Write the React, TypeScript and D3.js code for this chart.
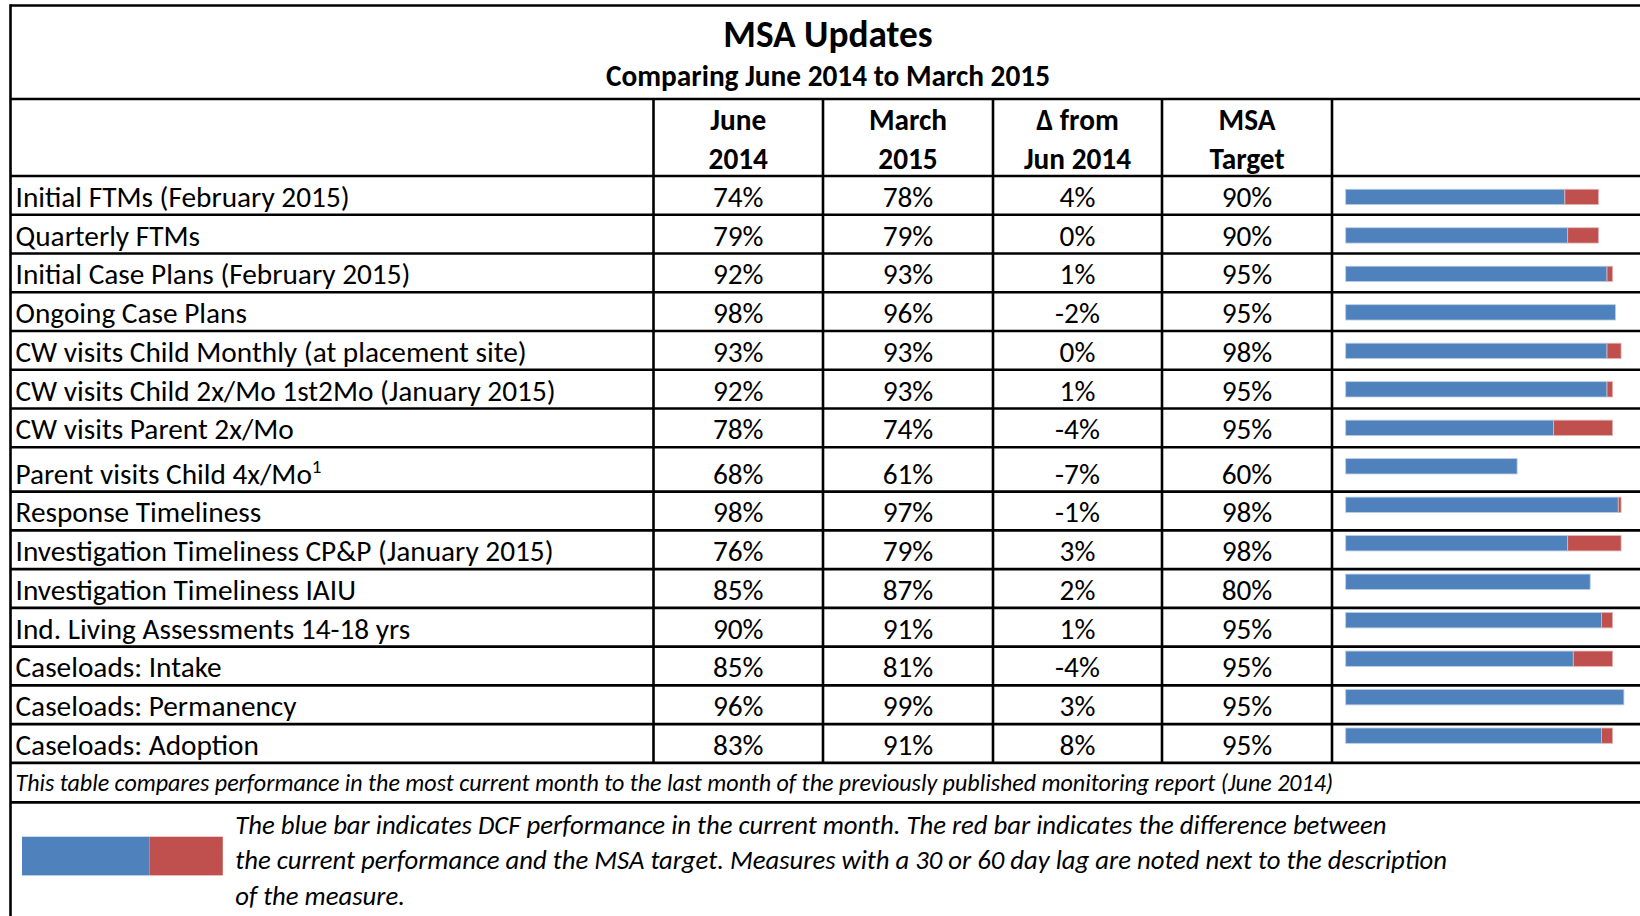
import React from "react";
import * as d3 from "d3";

const measures = [
  "Initial FTMs (February 2015)",
  "Quarterly FTMs",
  "Initial Case Plans (February 2015)",
  "Ongoing Case Plans",
  "CW visits Child Monthly (at placement site)",
  "CW visits Child 2x/Mo 1st2Mo (January 2015)",
  "CW visits Parent 2x/Mo",
  "Parent visits Child 4x/Mo",
  "Response Timeliness",
  "Investigation Timeliness CP&P (January 2015)",
  "Investigation Timeliness IAIU",
  "Ind. Living Assessments 14-18 yrs",
  "Caseloads: Intake",
  "Caseloads: Permanency",
  "Caseloads: Adoption",
];
const superscripts = ["", "", "", "", "", "", "", "1", "", "", "", "", "", "", ""];
const june2014 = [74, 79, 92, 98, 93, 92, 78, 68, 98, 76, 85, 90, 85, 96, 83];
const march2015 = [78, 79, 93, 96, 93, 93, 74, 61, 97, 79, 87, 91, 81, 99, 91];
const deltaFromJune = [4, 0, 1, -2, 0, 1, -4, -7, -1, 3, 2, 1, -4, 3, 8];
const msaTarget = [90, 90, 95, 95, 98, 95, 95, 60, 98, 98, 80, 95, 95, 95, 95];

const title = "MSA Updates";
const subtitle = "Comparing June 2014 to March 2015";
const headerLines = [
  ["June", "2014"],
  ["March", "2015"],
  ["Δ from", "Jun 2014"],
  ["MSA", "Target"],
];
const footnote =
  "This table compares performance in the most current month to the last month of the previously published monitoring report (June 2014)";
const legendLines = [
  "The blue bar indicates DCF performance in the current month. The red bar indicates the difference between",
  "the current performance and the MSA target. Measures with a 30 or 60 day lag are noted next to the description",
  "of the measure.",
];

const W = 1640;
const H = 916;
const FONT = "Carlito, Calibri, Lato, 'Open Sans', sans-serif";
const BLUE = "#4F81BD";
const RED = "#C0504D";

const pct = (v: number) => `${v}%`;

export default function App() {
  const left = 10.5;
  const topY = 5.5;
  const headTop = 99;
  const headBottom = 176;
  const rowH = 38.75;
  const tallExtra = 5.6;
  const colX = [left, 653.5, 823, 993, 1162, 1332];

  const bounds: number[] = [headBottom];
  measures.forEach((_, i) => {
    bounds.push(bounds[i] + rowH + (superscripts[i] ? tallExtra : 0));
  });
  const tableBottom = bounds[bounds.length - 1];
  const footBottom = tableBottom + 39.5;

  const x = d3.scaleLinear().domain([0, 100]).range([1345.7, 1626.7]);
  const y = d3
    .scaleBand<string>()
    .domain(measures)
    .range([166.1, 766.5])
    .paddingInner(0.602)
    .paddingOuter(0.602);

  const columns = [june2014, march2015, deltaFromJune, msaTarget];
  const lw = 2.6;

  return (
    <svg
      width={W}
      height={H}
      style={{ position: "absolute", left: 0, top: 0, background: "#fff" }}
      fontFamily={FONT}
    >
      <rect x={0} y={0} width={W} height={H} fill="#fff" />
      <text x={828} y={46.5} textAnchor="middle" fontSize={37.3} fontWeight="bold" fill="#000">
        {title}
      </text>
      <text x={828} y={85.5} textAnchor="middle" fontSize={29.3} fontWeight="bold" fill="#000">
        {subtitle}
      </text>

      {headerLines.map((lines, c) => {
        const cx = (colX[c + 1] + colX[c + 2]) / 2;
        return (
          <g key={c}>
            <text x={cx} y={130} textAnchor="middle" fontSize={29.3} fontWeight="bold">
              {lines[0]}
            </text>
            <text x={cx} y={168.5} textAnchor="middle" fontSize={29.3} fontWeight="bold">
              {lines[1]}
            </text>
          </g>
        );
      })}

      {measures.map((m, i) => {
        const base = bounds[i + 1] - 8;
        return (
          <g key={m}>
            <text x={15.5} y={base} fontSize={29.3}>
              {m}
              {superscripts[i] ? (
                <tspan dy={-11} fontSize={19}>
                  {superscripts[i]}
                </tspan>
              ) : null}
            </text>
            {columns.map((col, c) => (
              <text
                key={c}
                x={(colX[c + 1] + colX[c + 2]) / 2}
                y={base}
                textAnchor="middle"
                fontSize={29.3}
              >
                {pct(col[i])}
              </text>
            ))}
          </g>
        );
      })}

      {measures.map((m, i) => {
        const cur = march2015[i];
        const gap = Math.max(0, msaTarget[i] - cur);
        const by = y(m) as number;
        const bh = y.bandwidth();
        return (
          <g key={"bar" + m}>
            <rect
              x={x(0)}
              y={by}
              width={x(cur) - x(0)}
              height={bh}
              fill={BLUE}
              stroke="#b9cbe4"
              strokeWidth={0.8}
            />
            {gap > 0 && (
              <rect
                x={x(cur)}
                y={by}
                width={x(cur + gap) - x(cur)}
                height={bh}
                fill={RED}
                stroke="#e3b5b4"
                strokeWidth={0.8}
              />
            )}
          </g>
        );
      })}

      <g stroke="#000" strokeWidth={lw}>
        <line x1={left} x2={W} y1={topY} y2={topY} />
        <line x1={left} x2={W} y1={headTop} y2={headTop} />
        {bounds.map((b, i) => (
          <line key={i} x1={left} x2={W} y1={b} y2={b} />
        ))}
        <line x1={left} x2={W} y1={footBottom} y2={footBottom} />
        <line x1={left} x2={left} y1={topY - lw / 2} y2={H} />
        {colX.slice(1).map((cx, i) => (
          <line key={"v" + i} x1={cx} x2={cx} y1={headTop} y2={tableBottom} />
        ))}
      </g>

      <text x={15.5} y={791} fontSize={24} fontStyle="italic">
        {footnote}
      </text>

      <rect x={22} y={836.7} width={127.6} height={38.7} fill={BLUE} />
      <rect x={149.6} y={836.7} width={73.2} height={38.7} fill={RED} />
      {legendLines.map((t, i) => (
        <text key={i} x={235.3} y={834 + i * 35.4} fontSize={26.7} fontStyle="italic">
          {t}
        </text>
      ))}
    </svg>
  );
}
